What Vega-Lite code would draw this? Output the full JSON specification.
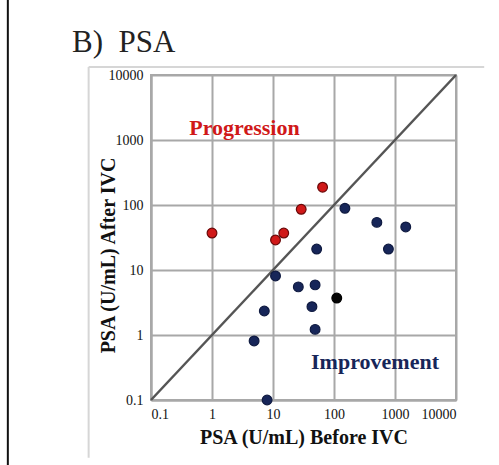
{
  "$schema": "https://vega.github.io/schema/vega-lite/v6.json",
  "autosize": "none",
  "width": 305,
  "height": 325,
  "padding": {"left": 151, "top": 75, "right": 43, "bottom": 65},
  "background": "white",
  "config": {
    "font": "Liberation Serif",
    "view": {"stroke": "#a8a8a8", "strokeWidth": 2},
    "axis": {
      "labelFont": "Liberation Serif",
      "labelFontSize": 14,
      "labelColor": "#111",
      "titleFont": "Liberation Serif",
      "titleFontSize": 20,
      "titleFontWeight": "bold",
      "titleColor": "#111",
      "gridColor": "#a8a8a8",
      "gridWidth": 2,
      "gridOpacity": 1,
      "domainColor": "#a8a8a8",
      "domainWidth": 2,
      "ticks": false
    }
  },
  "title": {
    "text": "B)\u00a0\u00a0PSA",
    "anchor": "start",
    "frame": "group",
    "dx": -79,
    "offset": -85,
    "font": "Liberation Serif",
    "fontSize": 31,
    "fontWeight": "normal",
    "color": "#222",
    "baseline": "alphabetic"
  },
  "datasets": {
    "points": [
      {"before": 1.0, "after": 37, "group": "Progression"},
      {"before": 11, "after": 29, "group": "Progression"},
      {"before": 15, "after": 37, "group": "Progression"},
      {"before": 29, "after": 86, "group": "Progression"},
      {"before": 65, "after": 188, "group": "Progression"},
      {"before": 151, "after": 89, "group": "Improvement"},
      {"before": 504, "after": 54, "group": "Improvement"},
      {"before": 1500, "after": 46, "group": "Improvement"},
      {"before": 52, "after": 21, "group": "Improvement"},
      {"before": 780, "after": 21, "group": "Improvement"},
      {"before": 11, "after": 8.1, "group": "Improvement"},
      {"before": 26, "after": 5.5, "group": "Improvement"},
      {"before": 49, "after": 5.9, "group": "Improvement"},
      {"before": 111, "after": 3.7, "group": "Other"},
      {"before": 43.5, "after": 2.73, "group": "Improvement"},
      {"before": 49, "after": 1.22, "group": "Improvement"},
      {"before": 7.2, "after": 2.34, "group": "Improvement"},
      {"before": 4.9, "after": 0.81, "group": "Improvement"},
      {"before": 8, "after": 0.1, "group": "Improvement"}
    ],
    "diag": [
      {"x": 0.1, "y": 0.1, "x2": 10000, "y2": 10000}
    ],
    "labels": [
      {"x": 3.4, "y": 1520, "text": "Progression", "group": "Progression"},
      {"x": 470, "y": 0.385, "text": "Improvement", "group": "Improvement"}
    ],
    "frame": [
      {"x": 0.0095, "y": 13280, "x2": 29000, "y2": 13280, "c": "gray"},
      {"x": 0.0095, "y": 13280, "x2": 0.0095, "y2": 0.0129, "c": "gray"},
      {"x": 0.00045, "y": 150000, "x2": 0.00045, "y2": 0.01, "c": "black"}
    ]
  },
  "layer": [
    {
      "data": {"name": "frame"},
      "mark": {"type": "rule", "clip": false, "strokeWidth": 2},
      "encoding": {
        "x": {"field": "x", "type": "quantitative", "scale": {"type": "log", "domain": [0.1, 10000]}},
        "y": {"field": "y", "type": "quantitative", "scale": {"type": "log", "domain": [0.1, 10000]}},
        "x2": {"field": "x2"},
        "y2": {"field": "y2"},
        "color": {"field": "c", "type": "nominal", "scale": {"domain": ["gray", "black"], "range": ["#d6d6d6", "#111111"]}, "legend": null}
      }
    },
    {
      "data": {"name": "diag"},
      "mark": {"type": "rule", "color": "#555555", "strokeWidth": 2.5},
      "encoding": {
        "x": {
          "field": "x", "type": "quantitative",
          "scale": {"type": "log", "domain": [0.1, 10000]},
          "axis": {
            "values": [0.1, 1, 10, 100, 1000, 10000],
            "labelExpr": "datum.value < 1 ? '0.1' : format(datum.value, 'd')",
            "labelPadding": 7,
            "title": "PSA (U/mL) Before IVC",
            "titlePadding": 6
          }
        },
        "y": {
          "field": "y", "type": "quantitative",
          "scale": {"type": "log", "domain": [0.1, 10000]},
          "axis": {
            "values": [0.1, 1, 10, 100, 1000, 10000],
            "labelExpr": "datum.value < 1 ? '0.1' : format(datum.value, 'd')",
            "labelPadding": 8,
            "title": "PSA (U/mL) After IVC",
            "titleX": -33,
            "titleY": 180
          }
        },
        "x2": {"field": "x2"},
        "y2": {"field": "y2"}
      }
    },
    {
      "data": {"name": "points"},
      "mark": {"type": "point", "filled": true, "size": 95, "opacity": 1, "strokeWidth": 1.2},
      "encoding": {
        "x": {"field": "before", "type": "quantitative"},
        "y": {"field": "after", "type": "quantitative"},
        "fill": {"field": "group", "type": "nominal", "scale": {"domain": ["Progression", "Improvement", "Other"], "range": ["#d01818", "#172659", "#050505"]}, "legend": null},
        "stroke": {"field": "group", "type": "nominal", "scale": {"domain": ["Progression", "Improvement", "Other"], "range": ["#6a0808", "#0f1a40", "#000000"]}, "legend": null}
      }
    },
    {
      "data": {"name": "labels"},
      "mark": {"type": "text", "font": "Liberation Serif", "fontWeight": "bold", "fontSize": 22, "align": "center", "baseline": "middle"},
      "encoding": {
        "x": {"field": "x", "type": "quantitative"},
        "y": {"field": "y", "type": "quantitative"},
        "text": {"field": "text"},
        "color": {"field": "group", "type": "nominal", "scale": {"domain": ["Progression", "Improvement"], "range": ["#d01818", "#172659"]}, "legend": null}
      }
    }
  ],
  "resolve": {"scale": {"color": "independent", "fill": "independent", "stroke": "independent"}}
}
